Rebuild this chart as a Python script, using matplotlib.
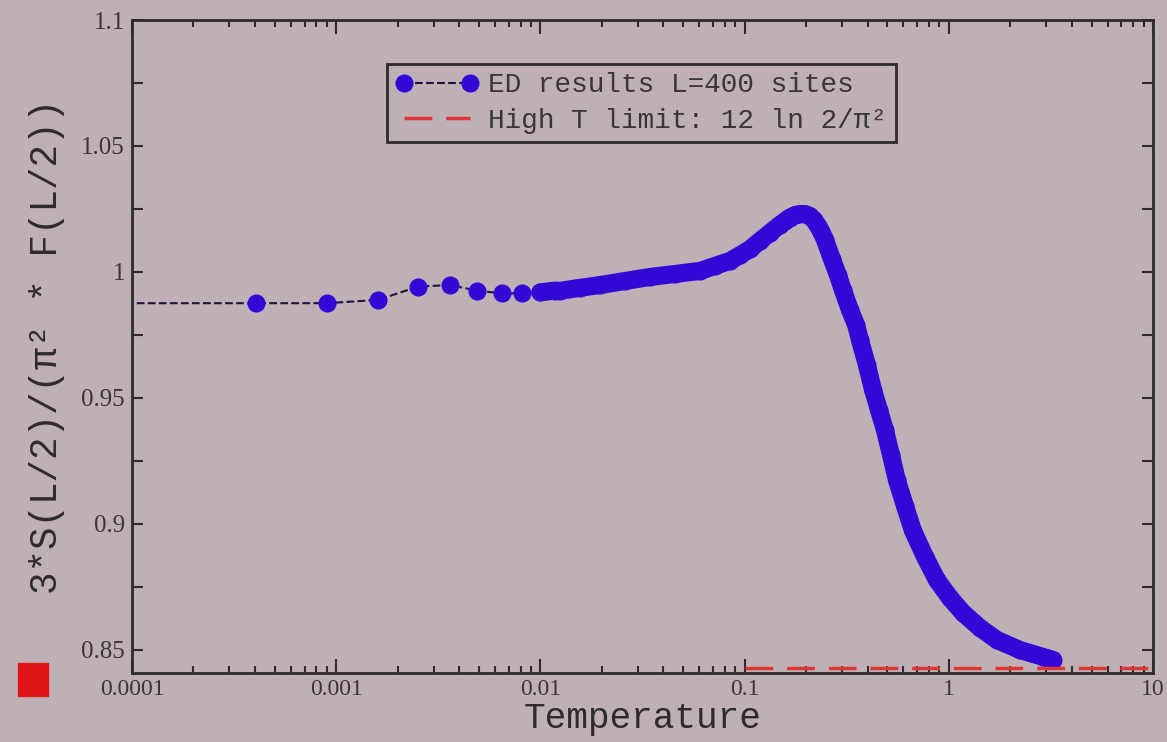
import matplotlib
matplotlib.use('Agg')
import matplotlib.pyplot as plt
import matplotlib.ticker as ticker
import numpy as np

# ED data (T, 3*S/(pi^2*F))
temperature = [5e-5, 4.05e-4, 9.0e-4, 1.6e-3, 2.52e-3, 3.6e-3, 4.88e-3, 6.47e-3, 8.1e-3,
               0.0100, 0.0118, 0.0125, 0.0156, 0.0196, 0.0259, 0.0344, 0.0456, 0.0605,
               0.0716, 0.0849, 0.0951, 0.1064, 0.1189, 0.1330, 0.1489, 0.1580, 0.1667,
               0.1770, 0.1866, 0.1975, 0.2089, 0.2190, 0.2285, 0.2380, 0.2477, 0.2679,
               0.2864, 0.3027, 0.3281, 0.3516, 0.3673, 0.3971, 0.4256, 0.4550, 0.4864,
               0.5209, 0.5569, 0.6107, 0.6683, 0.7638, 0.8747, 1.014, 1.175, 1.423,
               1.722, 2.233, 2.892, 3.238]
entropy_ratio = [0.9876, 0.9876, 0.9876, 0.9889, 0.9942, 0.9948, 0.9926, 0.9915, 0.9915,
                 0.9919, 0.9926, 0.9925, 0.9937, 0.9948, 0.9964, 0.9980, 0.9992, 1.0004,
                 1.0024, 1.0044, 1.0067, 1.0091, 1.0123, 1.0155, 1.0187, 1.0202, 1.0216,
                 1.0226, 1.0230, 1.0230, 1.0222, 1.0206, 1.0184, 1.0158, 1.0127, 1.0050,
                 0.9988, 0.9929, 0.9849, 0.9790, 0.9730, 0.9631, 0.9532, 0.9452, 0.9373,
                 0.9274, 0.9174, 0.9070, 0.8972, 0.8870, 0.8777, 0.8706, 0.8646, 0.8587,
                 0.8539, 0.8499, 0.8472, 0.8460]
dense_from = 9   # from T=0.01 on the points overlap into a band

high_t_x = [0.1, 10]
high_t_limit = 12 * np.log(2) / np.pi**2

bg = '#bfb0b5'
blue = '#3208d6'
dark = '#2e2a30'

fig = plt.figure(figsize=(11.67, 7.42), dpi=100, facecolor=bg)
ax = fig.add_axes([0.1131, 0.0930, 0.8749, 0.8800])
ax.set_facecolor(bg)

# connecting line + symbols
ax.plot(temperature, entropy_ratio, ls='--', color='#1e1440', lw=1.5,
        marker='o', ms=12, mfc=blue, mec=blue, zorder=2,
        label='ED results L=400 sites')
ax.plot(temperature[dense_from:], entropy_ratio[dense_from:], color=blue, lw=13,
        solid_capstyle='round', solid_joinstyle='round', zorder=3)
ax.plot(high_t_x, [high_t_limit] * 2, color='#e03535', lw=2.5, dashes=(8, 4),
        zorder=4, label='High T limit: 12 ln 2/π²')

ax.set_xscale('log')
ax.set_xlim(1e-4, 10)
ax.set_ylim(0.8408, 1.1)

ax.set_xticks([1e-4, 1e-3, 1e-2, 1e-1, 1, 10])
ax.set_xticklabels(['0.0001', '0.001', '0.01', '0.1', '1', '10'])
ax.xaxis.set_minor_locator(ticker.LogLocator(base=10, subs=np.arange(2, 10), numticks=20))
ax.xaxis.set_minor_formatter(ticker.NullFormatter())

ax.yaxis.set_major_locator(ticker.FixedLocator([0.85, 0.9, 0.95, 1.0, 1.05, 1.1]))
ax.yaxis.set_minor_locator(ticker.MultipleLocator(0.025))
ax.yaxis.set_major_formatter(ticker.FormatStrFormatter('%g'))

ax.tick_params(which='both', direction='in', top=True, right=True, color=dark,
               labelcolor='#3a363b', labelsize=17, width=1.5)
ax.tick_params(axis='x', which='major', length=10, pad=4)
ax.tick_params(axis='x', which='minor', length=5)
ax.tick_params(axis='y', which='both', length=8, pad=5)
ax.tick_params(axis='y', labelsize=18)
for lab in ax.get_xticklabels() + ax.get_yticklabels():
    lab.set_family('Liberation Serif')

for s in ax.spines.values():
    s.set_color(dark)
    s.set_linewidth(2)

ax.set_xlabel('Temperature', family='Liberation Mono', fontsize=26,
              color='#2e2a30', labelpad=1)
ax.set_ylabel('3*S(L/2)/(π² * F(L/2))', family='Liberation Mono', fontsize=27,
              color='#2e2a30', labelpad=12)

leg = ax.legend(loc='upper left', bbox_to_anchor=(0.2497, 0.9326), borderaxespad=0,
                numpoints=2, handlelength=3.0, handletextpad=0.35, borderpad=0.3,
                labelspacing=0.35, fancybox=False, framealpha=1,
                prop={'family': 'Liberation Mono', 'size': 20})
leg.get_frame().set_facecolor(bg)
leg.get_frame().set_edgecolor(dark)
leg.get_frame().set_linewidth(2)
for t in leg.get_texts():
    t.set_color('#3a363b')

# red icon in the bottom-left corner of the screen
fig.patches.append(plt.Rectangle((0.015, 0.062), 0.026, 0.045, transform=fig.transFigure,
                                 color='#e01515', figure=fig))

fig.savefig('out.png', dpi=100, facecolor=bg)
